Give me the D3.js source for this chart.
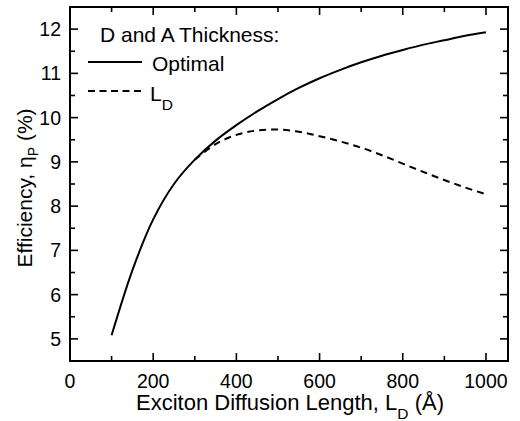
<!DOCTYPE html>
<html>
<head>
<meta charset="utf-8">
<script src="https://cdn.jsdelivr.net/npm/d3@7"></script>
<style>
  body { margin: 0; background: #fff; }
  text { font-family: "Liberation Sans", Arial, sans-serif; fill: #000; }
</style>
</head>
<body>
<div id="chart"></div>
<script>
// exciton diffusion length (Å) and efficiency (%)
const lengths = [100, 150, 200, 250, 300, 350, 400, 450, 500, 550, 600, 650, 700, 750, 800, 850, 900, 950, 1000];
const optimal = [5.08, 6.55, 7.70, 8.50, 9.05, 9.48, 9.83, 10.14, 10.42, 10.67, 10.89, 11.08, 11.25, 11.40, 11.53, 11.65, 11.75, 11.85, 11.93];

// fixed thickness = L_D branch (same as optimal below ~300 Å)
const ldLengths = [300, 350, 400, 450, 500, 550, 600, 650, 700, 750, 800, 850, 900, 950, 1000];
const ldValues = [9.05, 9.40, 9.61, 9.71, 9.73, 9.68, 9.58, 9.46, 9.32, 9.15, 8.96, 8.77, 8.59, 8.42, 8.27];

const xTicks = [0, 200, 400, 600, 800, 1000];
const xMinor = [100, 300, 500, 700, 900];
const yTicks = [5, 6, 7, 8, 9, 10, 11, 12];
const yMinor = [5.5, 6.5, 7.5, 8.5, 9.5, 10.5, 11.5];

const width = 520, height = 421;
const frame = { left: 70, right: 508, top: 7, bottom: 361 };

const svg = d3.select("#chart").append("svg")
  .attr("width", width)
  .attr("height", height);

const x = d3.scaleLinear().domain([0, 1053]).range([frame.left, frame.right]);
const y = d3.scaleLinear().domain([4.5, 12.5]).range([frame.bottom, frame.top]);

const line = d3.line()
  .x(d => x(d[0]))
  .y(d => y(d[1]))
  .curve(d3.curveCatmullRom.alpha(0.5));

/* ticks on all four sides, pointing inward */
const major = 8, minor = 5;
const tickG = svg.append("g").attr("stroke", "#000").attr("stroke-width", 1.6);

function xTick(v, len) {
  tickG.append("line").attr("x1", x(v)).attr("x2", x(v)).attr("y1", frame.bottom).attr("y2", frame.bottom - len);
  tickG.append("line").attr("x1", x(v)).attr("x2", x(v)).attr("y1", frame.top).attr("y2", frame.top + len);
}
function yTick(v, len) {
  tickG.append("line").attr("x1", frame.left).attr("x2", frame.left + len).attr("y1", y(v)).attr("y2", y(v));
  tickG.append("line").attr("x1", frame.right).attr("x2", frame.right - len).attr("y1", y(v)).attr("y2", y(v));
}
xTicks.filter(v => v > 0).forEach(v => xTick(v, major));
xMinor.forEach(v => xTick(v, minor));
yTicks.forEach(v => yTick(v, major));
yMinor.forEach(v => yTick(v, minor));

// frame
svg.append("rect")
  .attr("x", frame.left).attr("y", frame.top)
  .attr("width", frame.right - frame.left).attr("height", frame.bottom - frame.top)
  .attr("fill", "none")
  .attr("stroke", "#000")
  .attr("stroke-width", 2);

// tick labels
svg.append("g").selectAll("text")
  .data(xTicks).enter().append("text")
  .attr("x", d => x(d))
  .attr("y", 388)
  .attr("text-anchor", "middle")
  .style("font-size", "19.5px")
  .text(d => d);

svg.append("g").selectAll("text")
  .data(yTicks).enter().append("text")
  .attr("x", 61)
  .attr("y", d => y(d))
  .attr("dy", "0.36em")
  .attr("text-anchor", "end")
  .style("font-size", "19.5px")
  .text(d => d);

// axis titles
const xt = svg.append("text")
  .attr("x", 290)
  .attr("y", 410)
  .attr("text-anchor", "middle")
  .style("font-size", "22px");
xt.append("tspan").text("Exciton Diffusion Length, L");
xt.append("tspan").attr("dy", 9).style("font-size", "15.5px").text("D");
xt.append("tspan").attr("dy", -9).text(" (Å)");

const yt = svg.append("text")
  .attr("transform", "translate(32,188) rotate(-90)")
  .attr("text-anchor", "middle")
  .style("font-size", "21px");
yt.append("tspan").text("Efficiency, η");
yt.append("tspan").attr("dy", 6).style("font-size", "14px").text("P");
yt.append("tspan").attr("dy", -6).text(" (%)");

// curves
svg.append("path")
  .datum(lengths.map((v, i) => [v, optimal[i]]))
  .attr("d", line)
  .attr("fill", "none")
  .attr("stroke", "#000")
  .attr("stroke-width", 2);

svg.append("path")
  .datum(ldLengths.map((v, i) => [v, ldValues[i]]))
  .attr("d", line)
  .attr("fill", "none")
  .attr("stroke", "#000")
  .attr("stroke-width", 2)
  .attr("stroke-dasharray", "7,5");

// legend
svg.append("text")
  .attr("x", 100).attr("y", 42)
  .style("font-size", "21px")
  .text("D and A Thickness:");

svg.append("line")
  .attr("x1", 88).attr("x2", 142).attr("y1", 62).attr("y2", 62)
  .attr("stroke", "#000").attr("stroke-width", 2);
svg.append("text")
  .attr("x", 152).attr("y", 71)
  .style("font-size", "21px")
  .text("Optimal");

svg.append("line")
  .attr("x1", 88).attr("x2", 142).attr("y1", 91).attr("y2", 91)
  .attr("stroke", "#000").attr("stroke-width", 2)
  .attr("stroke-dasharray", "7,4.5");
const ld = svg.append("text")
  .attr("x", 150).attr("y", 101)
  .style("font-size", "21px");
ld.append("tspan").text("L");
ld.append("tspan").attr("dy", 9).style("font-size", "15.5px").text("D");
</script>
</body>
</html>
